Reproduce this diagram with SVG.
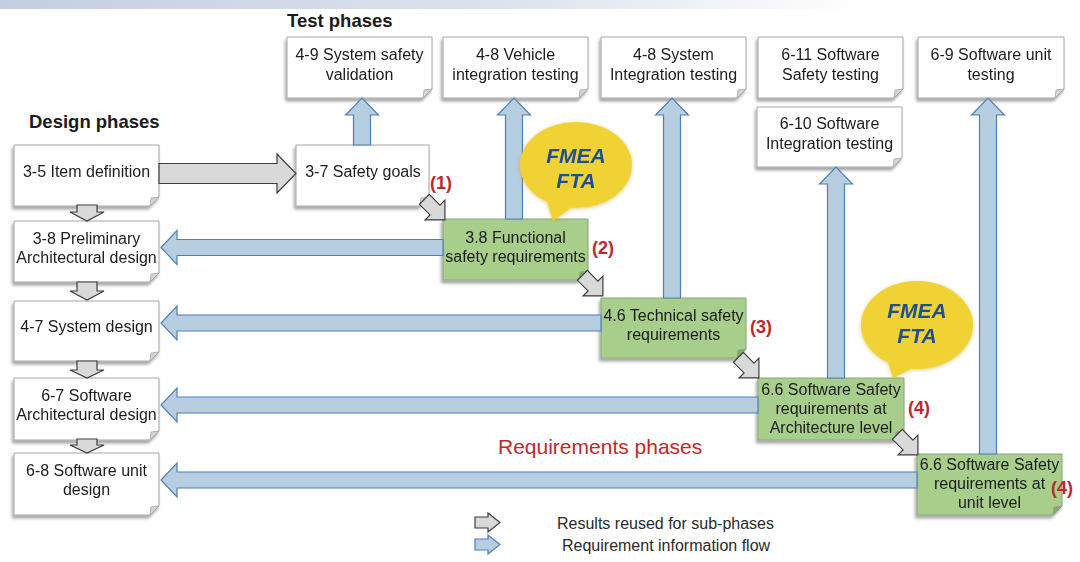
<svg xmlns="http://www.w3.org/2000/svg" xmlns:xlink="http://www.w3.org/1999/xlink" width="1080" height="562" viewBox="0 0 1080 562">
<defs>
<style>
text{font-family:"Liberation Sans",Arial,sans-serif;fill:#1b1b1b}
.bt{font-size:16px;text-anchor:middle}
.hd{font-size:18.5px;font-weight:bold}
.doc{fill:#ffffff;stroke:#a6a6a6;stroke-width:1}
.docf{fill:#d4d4d4;stroke:#a6a6a6;stroke-width:0.8}
.grn{fill:#a7cf8b;stroke:#8aa57a;stroke-width:1}
.grnf{fill:#87a872;stroke:#8aa57a;stroke-width:0.8}
.blue{fill:#b7cde0;stroke:#4f7fb8;stroke-width:1.2;stroke-linejoin:miter}
.gray{fill:#d9d9d9;stroke:#3c3c3c;stroke-width:1.2;stroke-linejoin:miter}
.num{font-size:18px;font-weight:bold;fill:#c0282d}
.fm{font-size:21px;font-weight:bold;font-style:italic;fill:#1d4f93;text-anchor:middle}
.bub{fill:#f1d235}
.lg{font-size:16px;fill:#2a2a2a}
</style>
<linearGradient id="band" x1="0" y1="0" x2="1" y2="0">
<stop offset="0" stop-color="#c3cee2"/>
<stop offset="0.5" stop-color="#dfe5ef"/>
<stop offset="0.8" stop-color="#ffffff"/>
</linearGradient>
<filter id="sh" x="-10%" y="-10%" width="125%" height="140%">
<feDropShadow dx="-1.5" dy="3" stdDeviation="1.8" flood-color="#000" flood-opacity="0.35"/>
</filter>
<filter id="glow" x="-15%" y="-15%" width="130%" height="135%">
<feDropShadow dx="0" dy="1" stdDeviation="2" flood-color="#b39a10" flood-opacity="0.45"/>
</filter>
<polygon id="diag" class="gray" points="-15,-7 0,-7 0,-14 14,0 0,14 0,7 -15,7" transform="rotate(45)"/>
</defs>

<rect x="0" y="0" width="1080" height="9" fill="url(#band)"/>

<text class="hd" x="287" y="27">Test phases</text>
<text class="hd" x="29" y="128">Design phases</text>

<!-- design column -->
<g id="n35" filter="url(#sh)">
<path class="doc" d="M14,145 H159 V197 L150,206 H14 Z"/><path class="docf" d="M159,197 L150,206 L151,198 Z"/>
<text class="bt" x="86.5" y="177">3-5 Item definition</text>
</g>
<g id="n38" filter="url(#sh)">
<path class="doc" d="M14,221 H159 V273 L150,282 H14 Z"/><path class="docf" d="M159,273 L150,282 L151,274 Z"/>
<text class="bt" x="86.5" y="244">3-8 Preliminary</text>
<text class="bt" x="86.5" y="263">Architectural design</text>
</g>
<g id="n47" filter="url(#sh)">
<path class="doc" d="M14,301 H159 V352 L150,361 H14 Z"/><path class="docf" d="M159,352 L150,361 L151,353 Z"/>
<text class="bt" x="86.5" y="332">4-7 System design</text>
</g>
<g id="n67" filter="url(#sh)">
<path class="doc" d="M14,378 H159 V431 L150,440 H14 Z"/><path class="docf" d="M159,431 L150,440 L151,432 Z"/>
<text class="bt" x="86.5" y="401">6-7 Software</text>
<text class="bt" x="86.5" y="420">Architectural design</text>
</g>
<g id="n68" filter="url(#sh)">
<path class="doc" d="M14,453 H159 V506 L150,515 H14 Z"/><path class="docf" d="M159,506 L150,515 L151,507 Z"/>
<text class="bt" x="86.5" y="476">6-8 Software unit</text>
<text class="bt" x="86.5" y="495">design</text>
</g>

<g id="n37" filter="url(#sh)">
<path class="doc" d="M296,145 H429 V197 L420,206 H296 Z"/><path class="docf" d="M429,197 L420,206 L421,198 Z"/>
<text class="bt" x="363" y="177">3-7 Safety goals</text>
</g>

<!-- test phases -->
<g id="n49" filter="url(#sh)">
<path class="doc" d="M287,37 H432 V89 L423,98 H287 Z"/><path class="docf" d="M432,89 L423,98 L424,90 Z"/>
<text class="bt" x="359.5" y="60">4-9 System safety</text>
<text class="bt" x="359.5" y="80">validation</text>
</g>
<g id="n48v" filter="url(#sh)">
<path class="doc" d="M443,37 H588 V89 L579,98 H443 Z"/><path class="docf" d="M588,89 L579,98 L580,90 Z"/>
<text class="bt" x="515.5" y="60">4-8 Vehicle</text>
<text class="bt" x="515.5" y="80">integration testing</text>
</g>
<g id="n48s" filter="url(#sh)">
<path class="doc" d="M601,37 H746 V89 L737,98 H601 Z"/><path class="docf" d="M746,89 L737,98 L738,90 Z"/>
<text class="bt" x="673.5" y="60">4-8 System</text>
<text class="bt" x="673.5" y="80">Integration testing</text>
</g>
<g id="n611" filter="url(#sh)">
<path class="doc" d="M758,37 H903 V89 L894,98 H758 Z"/><path class="docf" d="M903,89 L894,98 L895,90 Z"/>
<text class="bt" x="830.5" y="60">6-11 Software</text>
<text class="bt" x="830.5" y="80">Safety testing</text>
</g>
<g id="n69" filter="url(#sh)">
<path class="doc" d="M918,37 H1064 V89 L1055,98 H918 Z"/><path class="docf" d="M1064,89 L1055,98 L1056,90 Z"/>
<text class="bt" x="991" y="60">6-9 Software unit</text>
<text class="bt" x="991" y="80">testing</text>
</g>
<g id="n610" filter="url(#sh)">
<path class="doc" d="M757,107 H902 V158 L893,167 H757 Z"/><path class="docf" d="M902,158 L893,167 L894,159 Z"/>
<text class="bt" x="829.5" y="129">6-10 Software</text>
<text class="bt" x="829.5" y="149">Integration testing</text>
</g>

<!-- requirement boxes -->
<g id="g38" filter="url(#sh)">
<path class="grn" d="M443,219 H588 V271 L579,280 H443 Z"/><path class="grnf" d="M588,271 L579,280 L580,272 Z"/>
<text class="bt" x="515.5" y="243">3.8 Functional</text>
<text class="bt" x="515.5" y="262">safety requirements</text>
</g>
<g id="g46" filter="url(#sh)">
<path class="grn" d="M601,298 H746 V349 L737,358 H601 Z"/><path class="grnf" d="M746,349 L737,358 L738,350 Z"/>
<text class="bt" x="673.5" y="321">4.6 Technical safety</text>
<text class="bt" x="673.5" y="340">requirements</text>
</g>
<g id="g66a" filter="url(#sh)">
<path class="grn" d="M758,378 H904 V431 L895,440 H758 Z"/><path class="grnf" d="M904,431 L895,440 L896,432 Z"/>
<text class="bt" x="831" y="395">6.6 Software Safety</text>
<text class="bt" x="831" y="414">requirements at</text>
<text class="bt" x="831" y="433">Architecture level</text>
</g>
<g id="g66u" filter="url(#sh)">
<path class="grn" d="M917,454 H1062 V506 L1053,515 H917 Z"/><path class="grnf" d="M1062,506 L1053,515 L1054,507 Z"/>
<text class="bt" x="989.5" y="470">6.6 Software Safety</text>
<text class="bt" x="989.5" y="489">requirements at</text>
<text class="bt" x="989.5" y="508">unit level</text>
</g>

<!-- connectors -->
<g id="connectors">
<polygon class="blue" points="353.5,145 353.5,115 345.5,115 362,98 378.5,115 370.5,115 370.5,145"/>
<polygon class="blue" points="505.5,219 505.5,115 497.5,115 514,98 530.5,115 522.5,115 522.5,219"/>
<polygon class="blue" points="663.5,298 663.5,115 655.5,115 672,98 688.5,115 680.5,115 680.5,298"/>
<polygon class="blue" points="827.5,378 827.5,184 819.5,184 836,167 852.5,184 844.5,184 844.5,378"/>
<polygon class="blue" points="979.5,454 979.5,115 971.5,115 988,98 1004.5,115 996.5,115 996.5,454"/>
<polygon class="blue" points="443,239.5 177,239.5 177,230.5 161,247.5 177,264.5 177,255.5 443,255.5"/>
<polygon class="blue" points="601,315 177,315 177,306 161,323 177,340 177,331 601,331"/>
<polygon class="blue" points="758,397 177,397 177,388 161,405 177,422 177,413 758,413"/>
<polygon class="blue" points="917,472 177,472 177,463 161,480 177,497 177,488 917,488"/>
<polygon class="gray" points="159,163.5 277,163.5 277,154 296,173.5 277,193 277,183.5 159,183.5"/>
<polygon class="gray" points="77,205 97,205 97,212 104,212 87,221 70,212 77,212"/>
<polygon class="gray" points="77,282 97,282 97,291 104,291 87,300 70,291 77,291"/>
<polygon class="gray" points="77,361 97,361 97,370 104,370 87,378 70,370 77,370"/>
<polygon class="gray" points="77,439 97,439 97,445 104,445 87,453 70,445 77,445"/>
<use href="#diag" xlink:href="#diag" transform="translate(435,210)"/>
<use href="#diag" xlink:href="#diag" transform="translate(593,286)"/>
<use href="#diag" xlink:href="#diag" transform="translate(749,368)"/>
<use href="#diag" xlink:href="#diag" transform="translate(908,445)"/>
</g>

<!-- callouts -->
<g id="fmea1" filter="url(#glow)">
<ellipse class="bub" cx="576" cy="165" rx="56" ry="43"/>
<polygon class="bub" points="545,195 553,221 576,204"/>
<text class="fm" x="576" y="163">FMEA</text>
<text class="fm" x="576" y="188">FTA</text>
</g>
<g id="fmea2" filter="url(#glow)">
<ellipse class="bub" cx="917" cy="325" rx="56" ry="44"/>
<polygon class="bub" points="886,356 893,378 917,366"/>
<text class="fm" x="917" y="318">FMEA</text>
<text class="fm" x="917" y="343">FTA</text>
</g>

<!-- labels -->
<text class="num" x="430" y="189">(1)</text>
<text class="num" x="592" y="254">(2)</text>
<text class="num" x="750" y="333">(3)</text>
<text class="num" x="908" y="414">(4)</text>
<text class="num" x="1051" y="494">(4)</text>
<text x="498" y="454" style="font-size:21px;fill:#c0282d">Requirements phases</text>

<g id="legend">
<polygon class="gray" points="475,517 488,517 488,513 500,522.5 488,532 488,528 475,528"/>
<polygon class="blue" points="475,539 488,539 488,535 500,544.5 488,554 488,550 475,550"/>
<text class="lg" x="557" y="529">Results reused for sub-phases</text>
<text class="lg" x="562" y="551">Requirement information flow</text>
</g>
</svg>
